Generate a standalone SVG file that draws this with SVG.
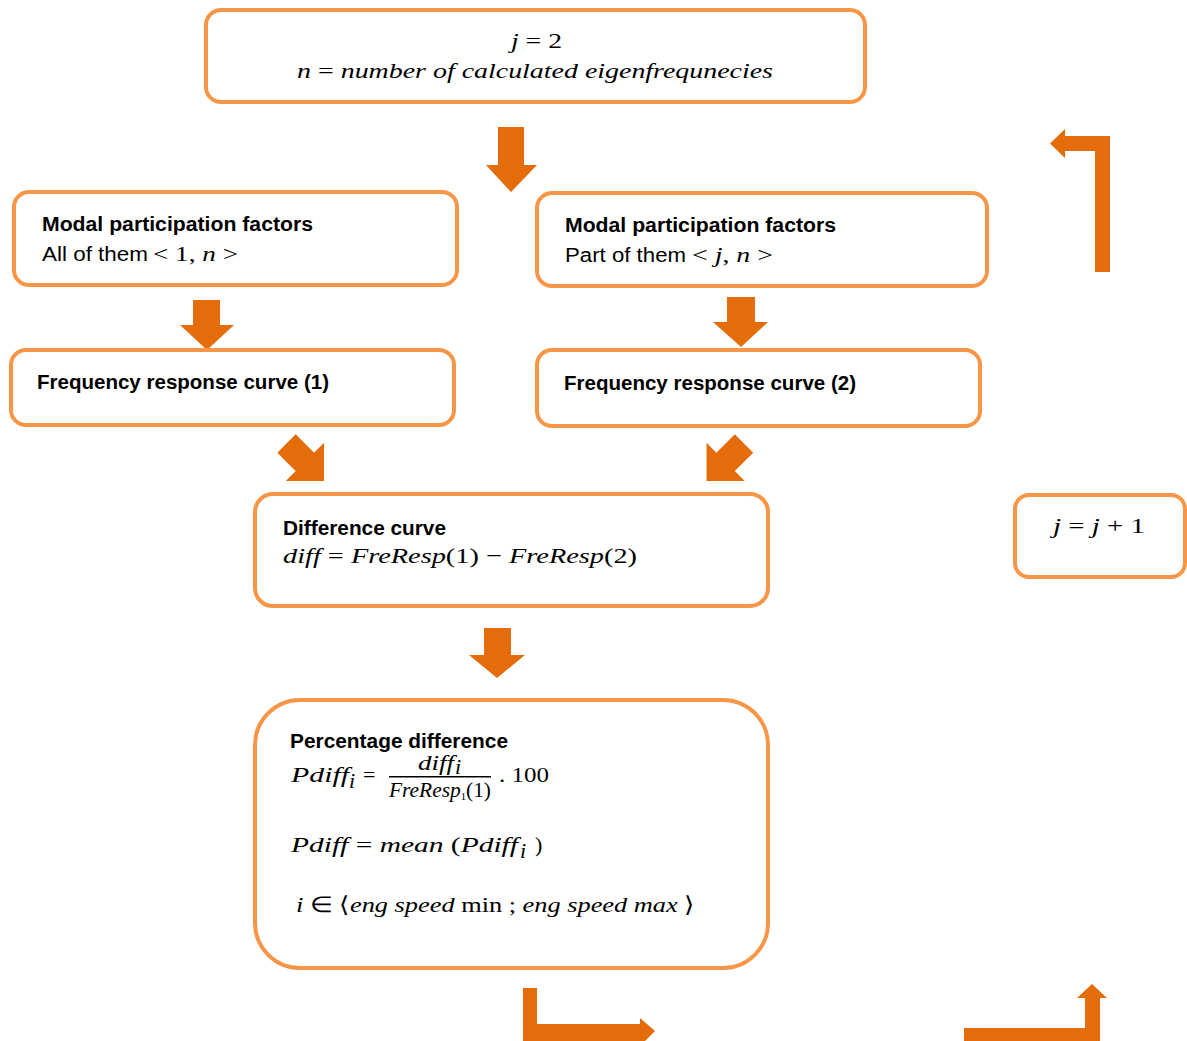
<svg xmlns="http://www.w3.org/2000/svg" width="1187" height="1041" viewBox="0 0 1187 1041">
<style>
.box{fill:#fff;stroke:#F79646;stroke-width:4}
.arr{fill:#E46C0A}
.b{font-family:"Liberation Sans",Arial,sans-serif;font-weight:bold;font-size:20px;fill:#000}
.s{font-family:"Liberation Sans",Arial,sans-serif;font-size:20px;fill:#000}
.m{font-family:"Liberation Serif","Times New Roman",serif;font-size:22px;fill:#000}
.i{font-style:italic}
</style>
<defs>
<polygon id="darr" points="-13,0 13,0 13,26 27,26 0,53 -27,26 -13,26"/>
</defs>
<g id="connectors">
<polygon class="arr" points="498,127 524,127 524,165 537,165 511,192 486,165 498,165"/>
<polygon class="arr" points="193,300 220,300 220,325 234,325 207,350 180,325 193,325"/>
<polygon class="arr" points="727,297 755,297 755,322 768,322 741,347 713,322 727,322"/>
<use href="#darr" class="arr" transform="translate(286.5,443.5) rotate(-45)"/>
<use href="#darr" class="arr" transform="translate(744,443.5) rotate(45)"/>
<polygon class="arr" points="484,628 511,628 511,655 525,655 497,678 469,655 484,655"/>
<polygon class="arr" points="1110,136 1110,272 1095,272 1095,151 1065,151 1065,158 1050,143.5 1065,129 1065,136"/>
<polygon class="arr" points="523,988 537,988 537,1024 640,1024 640,1018 655,1031 640,1046 640,1041 523,1041"/>
<polygon class="arr" points="964,1028 1085,1028 1085,998 1077,998 1092,984 1107,998 1100,998 1100,1041 964,1041"/>
</g>
<g id="n-init">
<rect class="box" x="206" y="10" width="659" height="92" rx="15"/>
<text class="m" x="511" y="48" font-size="24" textLength="51" lengthAdjust="spacingAndGlyphs"><tspan class="i">j</tspan> = 2</text>
<text class="m" x="297" y="78" textLength="476" lengthAdjust="spacingAndGlyphs"><tspan class="i">n</tspan> = <tspan class="i">number of calculated eigenfrequnecies</tspan></text>
</g>
<g id="n-mpf-all">
<rect class="box" x="14" y="192" width="443" height="93" rx="15"/>
<text class="b" x="42" y="231" textLength="271" lengthAdjust="spacingAndGlyphs">Modal participation factors</text>
<text class="s" x="42" y="261" textLength="106" lengthAdjust="spacingAndGlyphs">All of them</text>
<text class="m" x="153" y="261" textLength="85" lengthAdjust="spacingAndGlyphs">&lt; 1, <tspan class="i">n</tspan> &gt;</text>
</g>
<g id="n-mpf-part">
<rect class="box" x="537" y="193" width="450" height="93" rx="15"/>
<text class="b" x="565" y="232" textLength="271" lengthAdjust="spacingAndGlyphs">Modal participation factors</text>
<text class="s" x="565" y="262" textLength="121" lengthAdjust="spacingAndGlyphs">Part of them</text>
<text class="m" x="692" y="262" textLength="81" lengthAdjust="spacingAndGlyphs">&lt; <tspan class="i">j</tspan>, <tspan class="i">n</tspan> &gt;</text>
</g>
<g id="n-frc1">
<rect class="box" x="11" y="350" width="443" height="75" rx="15"/>
<text class="b" x="37" y="389" textLength="292" lengthAdjust="spacingAndGlyphs">Frequency response curve (1)</text>
</g>
<g id="n-frc2">
<rect class="box" x="537" y="350" width="443" height="76" rx="15"/>
<text class="b" x="564" y="390" textLength="292" lengthAdjust="spacingAndGlyphs">Frequency response curve (2)</text>
</g>
<g id="n-diff">
<rect class="box" x="255" y="494" width="513" height="112" rx="18"/>
<text class="b" x="283" y="535" textLength="163" lengthAdjust="spacingAndGlyphs">Difference curve</text>
<text class="m" x="283" y="563" textLength="354" lengthAdjust="spacingAndGlyphs"><tspan class="i">diff</tspan> = <tspan class="i">FreResp</tspan>(1) − <tspan class="i">FreResp</tspan>(2)</text>
</g>
<g id="n-pdiff">
<rect class="box" x="255" y="700" width="513" height="268" rx="45"/>
<text class="b" x="290" y="748" textLength="218" lengthAdjust="spacingAndGlyphs">Percentage difference</text>
<text class="m i" x="291" y="782" textLength="58" lengthAdjust="spacingAndGlyphs">Pdiff</text>
<text class="m i" x="349" y="788" font-size="16">i</text>
<text class="m" x="363" y="782">=</text>
<text class="m i" x="418" y="770" font-size="16" textLength="36" lengthAdjust="spacingAndGlyphs">diff</text>
<text class="m i" x="455" y="774" font-size="12">i</text>
<rect x="389" y="776" width="102" height="1.5" fill="#000"/>
<text class="m" x="389" y="797" font-size="15" textLength="102" lengthAdjust="spacingAndGlyphs"><tspan class="i">FreResp</tspan><tspan font-size="11" dy="3">1</tspan><tspan dy="-3">(1)</tspan></text>
<text class="m" x="499" y="782" textLength="50" lengthAdjust="spacingAndGlyphs">. 100</text>
<text class="m" x="291" y="852" textLength="227" lengthAdjust="spacingAndGlyphs"><tspan class="i">Pdiff</tspan> = <tspan class="i">mean</tspan> (<tspan class="i">Pdiff</tspan></text>
<text class="m i" x="520" y="858" font-size="16">i</text>
<text class="m" x="535" y="852">)</text>
<text class="m" x="296" y="912" textLength="399" lengthAdjust="spacingAndGlyphs"><tspan class="i">i</tspan>   ∈ ⟨<tspan class="i">eng speed</tspan> min ;  <tspan class="i">eng speed max</tspan> ⟩</text>
</g>
<g id="n-inc">
<rect class="box" x="1015" y="495" width="170" height="82" rx="14"/>
<text class="m" x="1053" y="533" font-size="24" textLength="92" lengthAdjust="spacingAndGlyphs"><tspan class="i">j</tspan> = <tspan class="i">j</tspan> + 1</text>
</g>
</svg>
